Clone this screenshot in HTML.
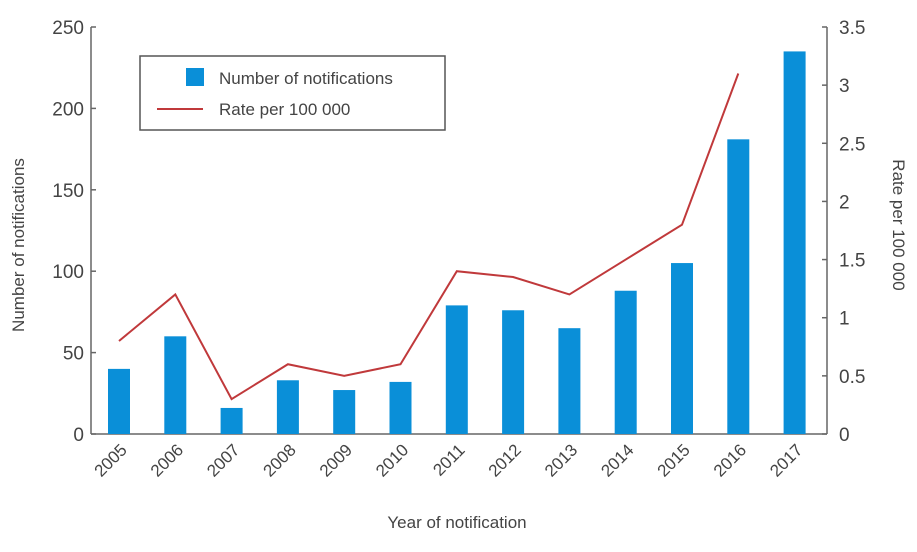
<!DOCTYPE html>
<html><head><meta charset="utf-8"><style>
body{margin:0;background:#fff;}
svg text{font-family:"Liberation Sans",sans-serif;fill:#444;}
</style></head><body>
<svg id="chart" width="917" height="547" viewBox="0 0 917 547" xmlns="http://www.w3.org/2000/svg"></svg>
<script>
const years=["2005","2006","2007","2008","2009","2010","2011","2012","2013","2014","2015","2016","2017"];
const counts=[40,60,16,33,27,32,79,76,65,88,105,181,235];
const rates=[0.8,1.2,0.3,0.6,0.5,0.6,1.4,1.35,1.2,1.5,1.8,3.1,null];
const leftTicks=[0,50,100,150,200,250];
const rightTicks=["0","0.5","1","1.5","2","2.5","3","3.5"];
const NS="http://www.w3.org/2000/svg";
const svg=document.getElementById('chart');
const X0=91,X1=827,Y0=434,Y1=27;
function yL(v){return Y0-(v/250)*(Y0-Y1);}
function yR(v){return Y0-(v/3.5)*(Y0-Y1);}
function xC(i){return 119+i*56.3;}
function mk(t,a,txt){const e=document.createElementNS(NS,t);for(const k in a)e.setAttribute(k,a[k]);if(txt!==undefined)e.textContent=txt;svg.appendChild(e);return e;}
let e;
e=mk('line',{x1:X0,y1:Y1,x2:X0,y2:Y0,stroke:'#666','stroke-width':1.5});


e=mk('line',{x1:X1,y1:Y1,x2:X1,y2:Y0,stroke:'#666','stroke-width':1.5});


e=mk('line',{x1:X0,y1:Y0,x2:X1,y2:Y0,stroke:'#666','stroke-width':1.5});


leftTicks.forEach(v=>{
 mk('line',{x1:X0,y1:yL(v),x2:X0+5,y2:yL(v),stroke:'#666','stroke-width':1.5});
 e=mk('text',{x:X0-7,y:yL(v)+7,'text-anchor':'end','font-size':19},String(v));
 
 
});
rightTicks.forEach(v=>{
 const y=yR(parseFloat(v));
 mk('line',{x1:X1-5,y1:y,x2:X1,y2:y,stroke:'#666','stroke-width':1.5});
 e=mk('text',{x:X1+12,y:y+7,'font-size':19},v);
 
 
});
counts.forEach((v,i)=>{
 e=mk('rect',{x:xC(i)-11,y:yL(v),width:22,height:Y0-yL(v),fill:'#0a8fd8'});
 
 
});
years.forEach((yr,i)=>{
 const x=xC(i)+9,y=Y0+17;
 e=mk('text',{x:x,y:y,'text-anchor':'end','font-size':17,transform:`rotate(-45 ${x} ${y})`},yr);
 
 
});
let pts=[];rates.forEach((r,i)=>{if(r!==null)pts.push(xC(i)+','+yR(r));});
e=mk('polyline',{points:pts.join(' '),fill:'none',stroke:'#c0393b','stroke-width':2});


e=mk('rect',{x:140,y:56,width:305,height:74,fill:'#fff',stroke:'#555','stroke-width':1.5});


e=mk('rect',{x:186,y:68,width:18,height:18,fill:'#0a8fd8'});


e=mk('text',{x:219,y:84,'font-size':17},'Number of notifications');


e=mk('line',{x1:157,y1:109,x2:203,y2:109,stroke:'#c0393b','stroke-width':2});


e=mk('text',{x:219,y:115,'font-size':17},'Rate per 100 000');


e=mk('text',{x:24,y:245,'text-anchor':'middle','font-size':17,transform:'rotate(-90 24 245)'},'Number of notifications');


e=mk('text',{x:893,y:225,'text-anchor':'middle','font-size':17,transform:'rotate(90 893 225)'},'Rate per 100 000');


e=mk('text',{x:457,y:528,'text-anchor':'middle','font-size':17},'Year of notification');


</script>
</body></html>
